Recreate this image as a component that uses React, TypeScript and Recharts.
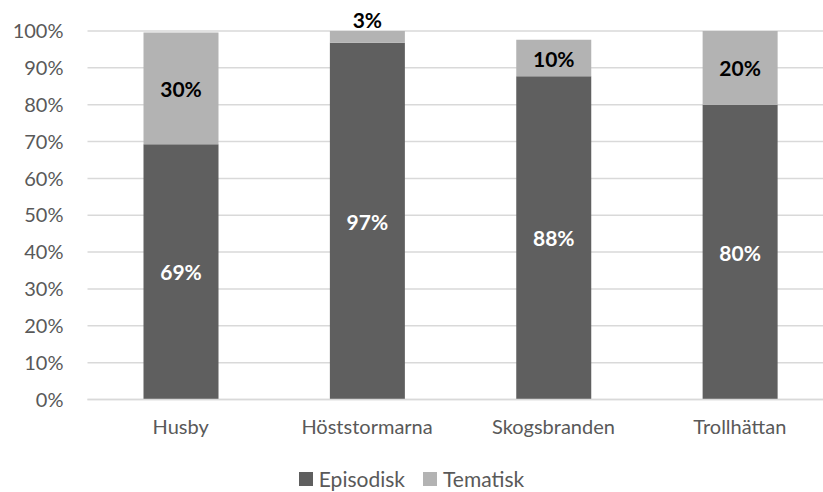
import React from "react";
import { BarChart, Bar, XAxis, YAxis, CartesianGrid, LabelList } from "recharts";

const categories = ["Husby", "Höststormarna", "Skogsbranden", "Trollhättan"];
const episodisk = [69.3, 96.8, 87.7, 80.0];
const tematisk = [30.3, 3.2, 9.9, 20.0];
const yTicks = [0, 10, 20, 30, 40, 50, 60, 70, 80, 90, 100];

const data = categories.map((name, i) => ({
  name,
  Episodisk: episodisk[i],
  Tematisk: tematisk[i],
}));

const FONT = "Lato, 'Open Sans', sans-serif";
const DARK = "#5f5f5f";
const LIGHT = "#b3b3b3";

const makeLabel = (color: string) => (props: any) => {
  const vb = props.viewBox || props;
  const x = Number(vb.x ?? props.x);
  const y = Number(vb.y ?? props.y);
  const w = Number(vb.width ?? props.width);
  const h = Number(vb.height ?? props.height);
  const v = props.value;
  const text = Math.round(Number(v)) + "%";
  const cx = x + w / 2;
  let cy = y + h / 2;
  let baseline: any = "central";
  if (Math.abs(h) < 22) {
    cy = Math.min(y, y + h) - 3;
    baseline = "auto";
  }
  return (
    <text
      x={cx}
      y={cy}
      textAnchor="middle"
      dominantBaseline={baseline}
      fill={color}
      fontFamily={FONT}
      fontWeight="bold"
      fontSize={21}
    >
      {text}
    </text>
  );
};

export default function App() {
  return (
    <div
      style={{
        position: "absolute",
        left: 0,
        top: 0,
        width: 823,
        height: 492,
        overflow: "hidden",
        background: "#fff",
      }}
    >
      <BarChart
        width={840}
        height={492}
        data={data}
        margin={{ top: 31, right: 7, left: 0, bottom: 30 }}
      >
        <CartesianGrid vertical={false} stroke="#d9d9d9" strokeWidth={1.5} />
        <XAxis
          dataKey="name"
          axisLine={{ stroke: "#d9d9d9", strokeWidth: 1.5 }}
          tickLine={false}
          tickSize={0}
          tickMargin={20}
          height={62.5}
          tick={{ fill: "#595959", fontFamily: FONT, fontSize: 20 }}
        />
        <YAxis
          width={87.5}
          domain={[0, 100]}
          ticks={yTicks}
          tickFormatter={(v: number) => v + "%"}
          axisLine={false}
          tickLine={false}
          tickSize={0}
          tickMargin={24}
          tick={{ fill: "#595959", fontFamily: FONT, fontSize: 20 }}
        />
        <Bar dataKey="Episodisk" stackId="a" fill={DARK} barSize={75} isAnimationActive={false}>
          <LabelList dataKey="Episodisk" content={makeLabel("#ffffff")} />
        </Bar>
        <Bar dataKey="Tematisk" stackId="a" fill={LIGHT} barSize={75} isAnimationActive={false}>
          <LabelList dataKey="Tematisk" content={makeLabel("#000000")} />
        </Bar>
      </BarChart>
      <div
        style={{
          position: "absolute",
          left: 0,
          width: 823,
          top: 468,
          height: 22,
          lineHeight: "22px",
          display: "flex",
          justifyContent: "center",
          alignItems: "center",
          fontFamily: FONT,
          fontSize: 21,
          color: "#595959",
          gap: 18,
        }}
      >
        <span style={{ display: "flex", alignItems: "center", gap: 6 }}>
          <span style={{ width: 14, height: 14, background: DARK, display: "inline-block" }} />
          Episodisk
        </span>
        <span style={{ display: "flex", alignItems: "center", gap: 6 }}>
          <span style={{ width: 14, height: 14, background: LIGHT, display: "inline-block" }} />
          Tematisk
        </span>
      </div>
    </div>
  );
}
